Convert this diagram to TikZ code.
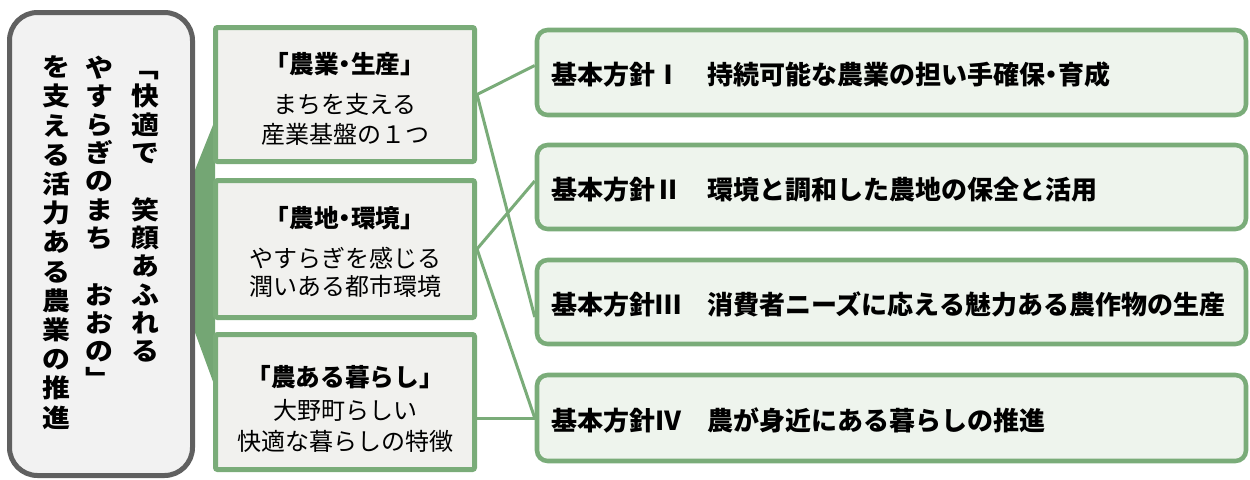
\documentclass[tikz,border=0pt]{standalone}
\usepackage{fontspec}
\newfontfamily\jp{Noto Sans CJK JP}
\newfontfamily\jpp[RawFeature=+palt]{Noto Sans CJK JP}
\newfontfamily\jpv[FakeStretch=1.1]{Noto Sans CJK JP}
\usetikzlibrary{calc,fit,backgrounds}
\definecolor{grn}{RGB}{122,172,121}
\definecolor{grnd}{RGB}{116,166,116}
\definecolor{gbord}{RGB}{96,96,96}
\definecolor{lfill}{RGB}{242,242,242}
\definecolor{mfill}{RGB}{241,241,238}
\definecolor{rfill}{RGB}{238,244,237}
\newcommand{\nakaguro}{{\jpp ・}}
\tikzset{
  leftbox/.style={draw=gbord, line width=3.75pt, fill=lfill, rounded corners=21pt, inner sep=0pt},
  midbox/.style={draw=grn, line width=3.75pt, fill=mfill, rounded corners=1.5pt, inner sep=0pt},
  rightbox/.style={draw=grn, line width=3.4pt, fill=rfill, rounded corners=8pt, inner sep=0pt},
  vch/.style={font=\jpv\bfseries\fontsize{19}{19}\selectfont, inner sep=0pt, text height=16.7pt, text depth=2.3pt},
  mtitle/.style={font=\jp\bfseries\fontsize{18.5}{18.5}\selectfont, inner sep=0pt, text height=16.3pt, text depth=2.2pt},
  mline/.style={font=\jp\fontsize{18}{18}\selectfont, inner sep=0pt, text height=15.85pt, text depth=2.15pt},
  rtext/.style={font=\jp\bfseries\fontsize{19.5}{19.5}\selectfont, inner sep=0pt, text height=17.2pt, text depth=2.3pt, anchor=west},
  conn/.style={draw=grn, line width=2.25pt},
  funnel/.style={fill=grnd}
}
\begin{document}
\begin{tikzpicture}[x=0.75pt,y=-0.75pt]
\useasboundingbox (0,0) rectangle (1250,479);
% left box
\node[leftbox, fit={(9.5,12.5) (192.5,475.5)}] (L) {};
% middle boxes
\node[midbox, fit={(215.5,27.5) (474.5,161.5)}] (M1) {};
\node[midbox, fit={(215.5,180.5) (474.5,317.5)}] (M2) {};
\node[midbox, fit={(215.5,334.5) (474.5,469.5)}] (M3) {};
% right boxes
\node[rightbox, fit={(537,30) (1246,115)}] (R1) {};
\node[rightbox, fit={(537,145) (1246,229)}] (R2) {};
\node[rightbox, fit={(537,260) (1246,344)}] (R3) {};
\node[rightbox, fit={(537,375) (1246,461)}] (R4) {};
% funnel connector (behind the boxes)
\begin{pgfonlayer}{background}
\fill[funnel] ($(L.east)+(-2,-69)$) -- ($(M1.west)+(2,25.5)$) -- ($(M3.west)+(2,-15)$) -- ($(L.east)+(-2,83)$) -- cycle;
\end{pgfonlayer}
% connectors
\draw[conn] (M1.east) -- ($(R1.west)+(0,-7)$);
\draw[conn] (M1.east) -- ($(R3.west)+(0,15)$);
\draw[conn] (M2.east) -- ($(R2.west)+(0,-6)$);
\draw[conn] (M2.east) -- (R4.west);
\draw[conn] (M3.east |- R4.west) -- (R4.west);
% vertical text in left box
\foreach \i/\c in {1/﹁,2/快,3/適,4/で,6/笑,7/顔,8/あ,9/ふ,10/れ,11/る}
  \node[vch, name=ca\i] at (145,{68+(\i-1)*28.3}) {\c};
\foreach \i/\c in {1/や,2/す,3/ら,4/ぎ,5/の,6/ま,7/ち,9/お,10/お,11/の,12/﹂}
  \node[vch, name=cb\i] at (99,{68+(\i-1)*28.3}) {\c};
\foreach \i/\c in {1/を,2/支,3/え,4/る,5/活,6/力,7/あ,8/る,9/農,10/業,11/の,12/推,13/進}
  \node[vch, name=cc\i] at (56.5,{67+(\i-1)*29.2}) {\c};
% middle texts
\node[mtitle] (t1) at (345,64) {「農業\nakaguro 生産」};
\node[mline] (t1a) at (345,104) {まちを支える};
\node[mline] (t1b) at (345,134) {産業基盤の１つ};
\node[mtitle] (t2) at (345,218) {「農地\nakaguro 環境」};
\node[mline] (t2a) at (345,258) {やすらぎを感じる};
\node[mline] (t2b) at (345,286) {潤いある都市環境};
\node[mtitle] (t3) at (345,377) {「農ある暮らし」};
\node[mline] (t3a) at (345,410) {大野町らしい};
\node[mline] (t3b) at (345,441) {快適な暮らしの特徴};
% right texts
\node[rtext] (r1) at (551,75) {基本方針Ⅰ　持続可能な農業の担い手確保\nakaguro 育成};
\node[rtext] (r2) at (551,190) {基本方針Ⅱ　環境と調和した農地の保全と活用};
\node[rtext] (r3) at (551,305) {基本方針Ⅲ　消費者ニーズに応える魅力ある農作物の生産};
\node[rtext] (r4) at (551,421) {基本方針Ⅳ　農が身近にある暮らしの推進};
\end{tikzpicture}
\end{document}
